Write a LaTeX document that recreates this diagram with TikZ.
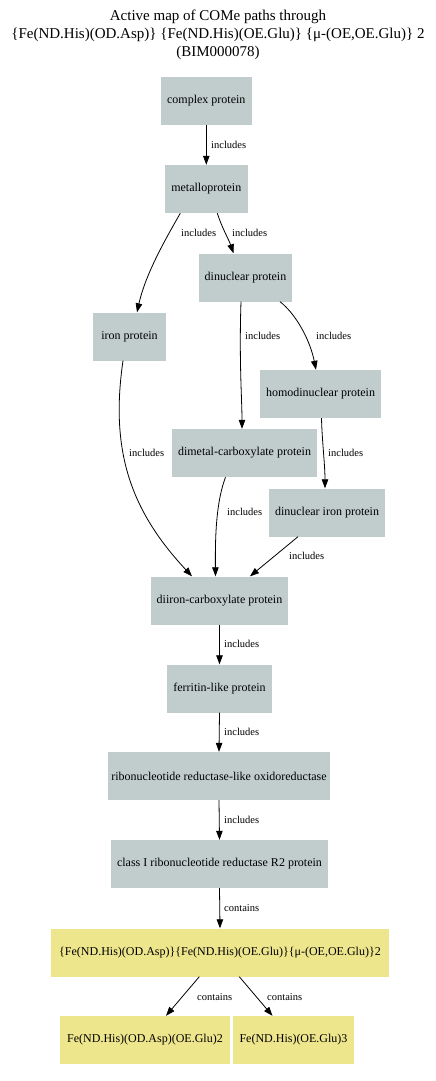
\documentclass[tikz,border=0pt]{standalone}
\usepackage{fontspec}
\setmainfont{Liberation Serif}
\usetikzlibrary{arrows.meta}
\definecolor{protgray}{RGB}{193,205,205}
\definecolor{ligkhaki}{RGB}{238,230,140}

\begin{document}
\begin{tikzpicture}[x=1pt, y=-1pt,
        prot/.style={fill=protgray, inner sep=0pt, minimum height=48pt, font=\fontsize{12}{14}\selectfont},
        lig/.style={prot, fill=ligkhaki},
        rel/.style={-{Triangle[length=9pt,width=6.5pt]}, line width=0.8pt},
        lbl/.style={anchor=west, inner sep=0pt, font=\fontsize{10.5}{12}\selectfont}]
        \useasboundingbox (0,0) rectangle (436,1081);

        \node[align=center, font=\fontsize{15}{18}\selectfont] (title) at (218,35)
            {Active map of COMe paths through\\{\{}Fe(ND.His)(OD.Asp)\} \{Fe(ND.His)(OE.Glu)\} \{μ-(OE,OE.Glu)\} 2\\(BIM000078)};

        % classes
        \node[prot, minimum width=90.5pt] (cplx) at (206.3,101) {complex protein};
        \node[prot, minimum width=82.5pt] (metal) at (206.3,189) {metalloprotein};
        \node[prot, minimum width=93pt] (dinuc) at (245.5,277.5) {dinuclear protein};
        \node[prot, minimum width=73pt] (iron) at (129.5,336.5) {iron protein};
        \node[prot, minimum width=121pt] (homo) at (320.5,394) {homodinuclear protein};
        \node[prot, minimum width=145pt] (dimetal) at (244.5,453) {dimetal-carboxylate protein};
        \node[prot, minimum width=116pt] (dniron) at (327,512.5) {dinuclear iron protein};
        \node[prot, minimum width=137pt] (diiron) at (219.5,600.5) {diiron-carboxylate protein};
        \node[prot, minimum width=105pt] (ferr) at (219.5,688.5) {ferritin-like protein};
        \node[prot, minimum width=222pt] (ribo) at (219,776) {ribonucleotide reductase-like oxidoreductase};
        \node[prot, minimum width=217pt] (rtwo) at (219.5,864) {class I ribonucleotide reductase R2 protein};

        % sites
        \node[lig, minimum width=338pt] (site) at (220,952.5) {\{Fe(ND.His)(OD.Asp)\}\{Fe(ND.His)(OE.Glu)\}\{μ-(OE,OE.Glu)\}2};
        \node[lig, minimum width=170pt] (siteA) at (145,1040) {Fe(ND.His)(OD.Asp)(OE.Glu)2};
        \node[lig, minimum width=121pt] (siteB) at (293.5,1040) {Fe(ND.His)(OE.Glu)3};

        \draw[rel] (cplx.south) -- (metal.north);
        \draw[rel] ([xshift=-26pt]metal.south) .. controls (168,235) and (146,272) .. ([xshift=7.5pt]iron.north);
        \draw[rel] ([xshift=11pt]metal.south) .. controls (222,228) and (229,240) .. ([xshift=-12pt]dinuc.north);
        \draw[rel] ([xshift=-4.5pt]dinuc.south) .. controls (239,360) and (242,400) .. ([xshift=-2.5pt]dimetal.north);
        \draw[rel] ([xshift=34.5pt]dinuc.south) .. controls (296,314) and (310,340) .. ([xshift=-4.5pt]homo.north);
        \draw[rel] ([xshift=-6.5pt]iron.south) .. controls (110,450) and (130,510) .. ([xshift=-27.5pt]diiron.north);
        \draw[rel] ([xshift=-19pt]dimetal.south) .. controls (217,500) and (215,530) .. ([xshift=-4pt]diiron.north);
        \draw[rel] ([xshift=1pt]homo.south) .. controls (322,440) and (325,465) .. ([xshift=-2pt]dniron.north);
        \draw[rel] ([xshift=-29pt]dniron.south) -- ([xshift=30.5pt]diiron.north);
        \draw[rel] (diiron.south) -- (ferr.north);
        \draw[rel] (ferr.south) -- (ribo.north);
        \draw[rel] (ribo.south) -- (rtwo.north);
        \draw[rel] (rtwo.south) -- (site.north);
        \draw[rel] ([xshift=-20.7pt]site.south) -- ([xshift=21pt]siteA.north);
        \draw[rel] ([xshift=19.3pt]site.south) -- ([xshift=-21pt]siteB.north);

        % edge labels
        \node[lbl] (l1) at (211,145) {includes};
        \node[lbl] (l2) at (181,233) {includes};
        \node[lbl] (l3) at (232,233) {includes};
        \node[lbl] (l4) at (245,336) {includes};
        \node[lbl] (l5) at (316,336) {includes};
        \node[lbl] (l6) at (129,453) {includes};
        \node[lbl] (l7) at (227,512) {includes};
        \node[lbl] (l8) at (328,453) {includes};
        \node[lbl] (l9) at (289,556) {includes};
        \node[lbl] (l10) at (224,644) {includes};
        \node[lbl] (l11) at (224,732) {includes};
        \node[lbl] (l12) at (224,820) {includes};
        \node[lbl] (l13) at (224,908) {contains};
        \node[lbl] (l14) at (197,997) {contains};
        \node[lbl] (l15) at (267,997) {contains};
    \end{tikzpicture}
\end{document}
